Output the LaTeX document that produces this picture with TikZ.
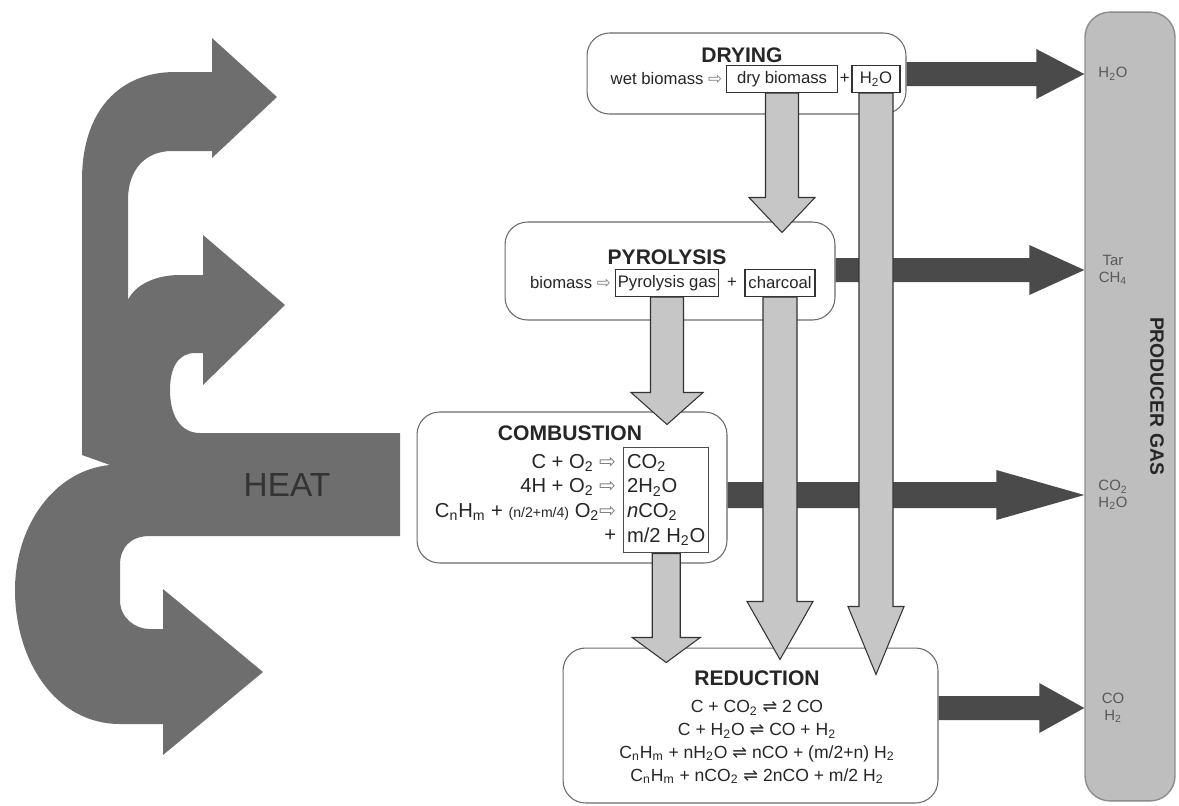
\documentclass[tikz,border=0pt]{standalone}
\usepackage{fontspec}
\setmainfont{Liberation Sans}
\newfontfamily\symfont{DejaVu Sans}
\usetikzlibrary{calc,positioning}

\definecolor{heatgray}{HTML}{6E6E6E}
\definecolor{flowdark}{HTML}{4A4A4A}
\definecolor{flowlight}{HTML}{C6C6C6}
\definecolor{flowedge}{HTML}{333333}
\definecolor{barfill}{HTML}{BEBEBE}
\definecolor{baredge}{HTML}{8C8C8C}
\definecolor{boxedge}{HTML}{6A6A6A}

\newcommand{\lo}[1]{\textsubscript{#1}}
\newcommand{\yields}{{\symfont\color{gray}⇨}}
\newcommand{\equil}{{\symfont ⇌}}
\newcommand{\combfont}{\fontsize{11.5}{14}\selectfont}

% block arrows: from, to, shaft half width, head half width, head length (px)
\newcommand{\downflow}[5]{%
  \path[flowdown] let \p1=(#1), \p2=(#2) in
    (\x1-#3*0.02cm,\y1) -- (\x1-#3*0.02cm,\y2+#5*0.02cm)
    -- (\x1-#4*0.02cm,\y2+#5*0.02cm) -- (\x1,\y2)
    -- (\x1+#4*0.02cm,\y2+#5*0.02cm) -- (\x1+#3*0.02cm,\y2+#5*0.02cm)
    -- (\x1+#3*0.02cm,\y1) -- cycle;}
\newcommand{\rightflow}[5]{%
  \path[flowout] let \p1=(#1), \p2=(#2) in
    (\x1,\y1+#3*0.02cm) -- (\x2-#5*0.02cm,\y1+#3*0.02cm)
    -- (\x2-#5*0.02cm,\y1+#4*0.02cm) -- (\x2,\y1)
    -- (\x2-#5*0.02cm,\y1-#4*0.02cm) -- (\x2-#5*0.02cm,\y1-#3*0.02cm)
    -- (\x1,\y1-#3*0.02cm) -- cycle;}

\begin{document}
\begin{tikzpicture}[
    x=0.02cm, y=-0.02cm,
    every node/.style={text=black!85},
    stage/.style={draw=boxedge, fill=white, rounded corners=0.45cm, line width=0.6pt},
    stagetitle/.style={font=\fontsize{12}{14}\selectfont\bfseries},
    eqn/.style={inner sep=1pt, font=\fontsize{9.5}{12}\selectfont},
    item/.style={draw=black!80, line width=0.6pt, inner sep=1.5pt,
      minimum height=0.54cm, font=\fontsize{9.5}{12}\selectfont},
    gas/.style={text=black!65, align=center, inner sep=1pt,
      font=\fontsize{8.5}{9.5}\selectfont},
    flowdown/.style={fill=flowlight, draw=flowedge, line width=0.6pt},
    flowout/.style={fill=flowdark}
  ]
  \useasboundingbox (0,0) rectangle (1179,805);

  % heat
  \fill[heatgray] (82,455) -- (82,180)
    .. controls (82,110) and (120,72) .. (175,72)
    -- (212,72) -- (212,38) -- (277,97) -- (212,158) -- (212,151)
    -- (172,151) .. controls (145,151) and (128,170) .. (128,200)
    -- (128,300) .. controls (135,285) and (155,275) .. (180,275)
    -- (203,275) -- (203,235) -- (285,305) -- (203,385) -- (203,353)
    -- (195,353) .. controls (178,353) and (170,368) .. (170,390)
    .. controls (170,415) and (180,433) .. (200,433)
    -- (400,433) -- (400,536)
    -- (150,536) .. controls (130,536) and (120,548) .. (120,565)
    -- (120,600) .. controls (120,618) and (135,629) .. (150,629)
    -- (163,629) -- (163,589) -- (263,672) -- (163,755) -- (163,724)
    -- (120,724) .. controls (55,724) and (15,660) .. (15,590)
    .. controls (15,525) and (55,470) .. (110,465) -- cycle;
  \node[font=\fontsize{19}{22}\selectfont, text=black!80] (heat) at (287,485) {HEAT};

  % producer gas
  \node[draw=baredge, fill=barfill, rounded corners=0.5cm, line width=0.8pt,
    minimum width=1.8cm, minimum height=15.78cm] (bar) at (1130,406.5) {};

  % stages
  \node[stage, minimum width=6.38cm, minimum height=1.62cm] (drying) at (746.5,73.5) {};
  \node[stage, minimum width=6.6cm, minimum height=1.96cm] (pyrolysis) at (670,271) {};
  \node[stage, minimum width=6.2cm, minimum height=3.02cm] (combustion) at (572,487.5) {};
  \node[stage, minimum width=7.5cm, minimum height=3.1cm] (reduction) at (750.5,725.5) {};

  \node[stagetitle] (dryingtitle) at (742,55) {DRYING};
  \node[item, minimum width=2.22cm] (drybio) at (782,79) {dry biomass};
  \node[item, minimum width=0.96cm] (dryh2o) at (876,79) {H\lo{2}O};
  \node[eqn, left=1pt of drybio] (wetbio) {wet biomass \yields};
  \node[eqn] (dryplus) at ($(drybio.east)!0.5!(dryh2o.west)$) {+};

  \node[stagetitle] (pyrtitle) at (667,257) {PYROLYSIS};
  \node[item, minimum width=1.98cm] (pyrgas) at (667,283) {Pyrolysis gas};
  \node[item, minimum width=1.4cm] (charcoal) at (780,283) {charcoal};
  \node[eqn, left=1pt of pyrgas] (biomass) {biomass \yields};
  \node[eqn] (pyrplus) at ($(pyrgas.east)!0.5!(charcoal.west)$) {+};

  \node[stagetitle] (combtitle) at (570,433) {COMBUSTION};
  \node[draw=black!70, line width=0.6pt, anchor=north west, align=left, inner sep=2pt,
    minimum width=1.68cm, font=\combfont] (products) at (623,447)
    {\strut CO\lo{2}\\ \strut 2H\lo{2}O\\ \strut \emph{n}CO\lo{2}\\ \strut m/2 H\lo{2}O};
  \node[anchor=north east, align=right, inner sep=2pt, font=\combfont] (reactants) at (620,447)
    {\strut C + O\lo{2} \yields\\ \strut 4H + O\lo{2} \yields\\
     \strut C\lo{n}H\lo{m} + {\fontsize{8}{9}\selectfont(n/2+m/4)} O\lo{2}\yields\\ \strut +};

  \node[stagetitle] (redtitle) at (757,678) {REDUCTION};
  \node[align=center, inner sep=1pt, font=\fontsize{10}{13}\selectfont] (redeqs) at (757,742)
    {C + CO\lo{2} \equil\ 2 CO\\ C + H\lo{2}O \equil\ CO + H\lo{2}\\
     C\lo{n}H\lo{m} + nH\lo{2}O \equil\ nCO + (m/2+n) H\lo{2}\\
     C\lo{n}H\lo{m} + nCO\lo{2} \equil\ 2nCO + m/2 H\lo{2}};

  % gas outlets
  \node[gas] (outdry) at (1113,74) {H\lo{2}O};
  \node[gas] (outpyr) at (1113,270) {Tar\\CH\lo{4}};
  \node[gas] (outcomb) at (1113,495) {CO\lo{2}\\H\lo{2}O};
  \node[gas] (outred) at (1113,708) {CO\\H\lo{2}};
  \node[rotate=-90, font=\fontsize{11}{13}\selectfont\bfseries] (prodgas) at (1157,396) {PRODUCER GAS};

  \rightflow{drying.east |- outdry}{bar.west |- outdry}{12}{25}{48}
  \rightflow{pyrolysis.east |- outpyr}{bar.west |- outpyr}{12}{25}{55}
  \rightflow{combustion.east |- outcomb}{bar.west |- outcomb}{13}{25}{88}
  \rightflow{reduction.east |- outred}{bar.west |- outred}{12}{25}{45}

  \downflow{drybio.south}{[yshift=-0.22cm]pyrolysis.north}{16.5}{33}{35}
  \downflow{dryh2o.south}{[yshift=-0.54cm]reduction.north}{17}{28}{68}
  \downflow{pyrgas.south}{[yshift=-0.26cm]combustion.north}{16.5}{36}{32}
  \downflow{charcoal.south}{[yshift=-0.24cm]reduction.north}{17}{33}{58}
  \downflow{products.south}{[yshift=-0.3cm]reduction.north}{14}{34}{25}
\end{tikzpicture}
\end{document}
